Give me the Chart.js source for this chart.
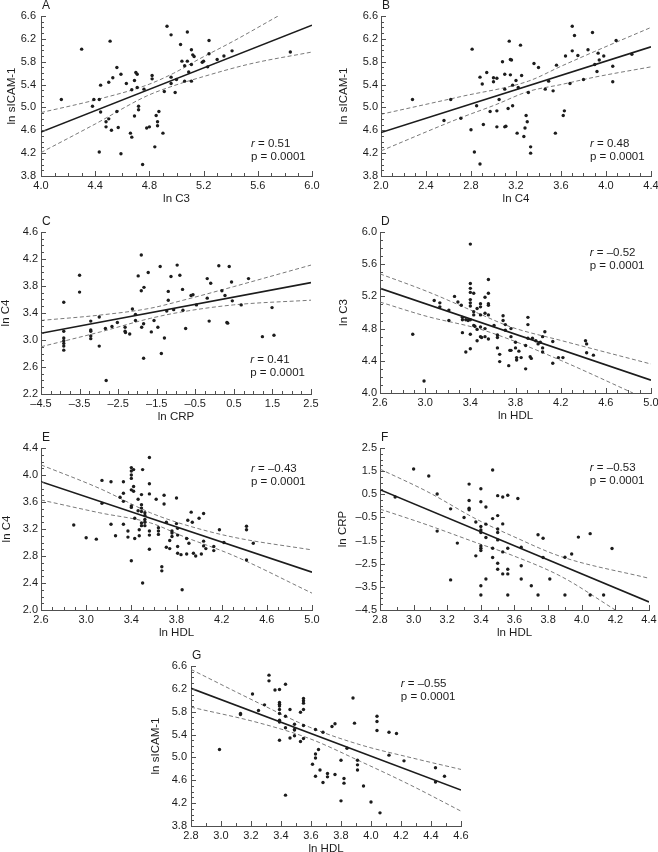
<!DOCTYPE html>
<html>
<head>
<meta charset="utf-8">
<title>Correlations</title>
<script src="https://cdn.jsdelivr.net/npm/chart.js@4.4.1/dist/chart.umd.min.js"></script>
<style>
html, body { margin: 0; padding: 0; background: #fff; }
body { width: 658px; height: 852px; position: relative; overflow: hidden; }
canvas { position: absolute; }
</style>
</head>
<body>
<canvas id="cA"></canvas>
<canvas id="cB"></canvas>
<canvas id="cC"></canvas>
<canvas id="cD"></canvas>
<canvas id="cE"></canvas>
<canvas id="cF"></canvas>
<canvas id="cG"></canvas>
<script>
// ---- data ----
// axis specs: [min, max, major step, minor subdivisions]

// A: ln C3 vs ln sICAM-1
const xAxisA = [4.0, 6.0, 0.4, 4];
const yAxisA = [3.8, 6.6, 0.4, 4];
const ptsA = [[4.15,5.14],[4.30,6.02],[4.38,5.02],[4.39,5.14],[4.43,5.14],[4.43,4.22],[4.44,5.39],[4.44,4.92],[4.48,4.75],[4.48,4.66],[4.50,4.80],[4.50,5.44],[4.51,6.16],[4.52,4.60],[4.53,5.52],[4.56,5.70],[4.56,4.93],[4.57,4.65],[4.59,5.58],[4.59,4.19],[4.63,5.42],[4.66,4.55],[4.67,5.31],[4.67,4.48],[4.69,5.47],[4.69,4.85],[4.70,5.61],[4.71,5.58],[4.71,5.35],[4.72,4.96],[4.72,5.02],[4.75,4.00],[4.76,5.32],[4.78,4.64],[4.80,4.66],[4.82,5.56],[4.82,5.50],[4.84,4.31],[4.85,4.86],[4.86,4.75],[4.86,4.68],[4.87,4.93],[4.90,4.55],[4.91,5.28],[4.93,6.42],[4.96,6.27],[4.96,5.53],[4.96,5.42],[4.99,5.26],[5.00,5.49],[5.03,6.10],[5.04,5.81],[5.06,5.73],[5.06,5.46],[5.08,6.32],[5.08,5.81],[5.09,5.62],[5.11,6.01],[5.11,5.75],[5.11,5.46],[5.12,5.92],[5.13,5.89],[5.19,5.79],[5.20,5.81],[5.23,5.71],[5.24,6.17],[5.24,5.94],[5.30,5.84],[5.35,5.90],[5.41,5.99],[5.84,5.97]];
const fitA = [[4.0,4.57],[6.0,6.44]];
const upA = [[4.0,4.91],[4.40,5.13],[4.78,5.39],[4.98,5.60],[5.17,5.85],[5.42,6.16],[5.75,6.60]];
const loA = [[4.0,4.21],[4.40,4.71],[4.78,5.20],[4.98,5.38],[5.17,5.52],[5.54,5.76],[6.0,5.97]];

// B: ln C4 vs ln sICAM-1
const xAxisB = [2.0, 4.4, 0.4, 4];
const yAxisB = [3.8, 6.6, 0.4, 4];
const ptsB = [[2.28,5.14],[2.56,4.77],[2.62,5.14],[2.71,4.81],[2.80,4.61],[2.81,6.02],[2.83,4.22],[2.85,5.03],[2.88,4.01],[2.88,5.53],[2.90,5.41],[2.91,4.70],[2.94,5.61],[2.97,4.93],[3.00,5.45],[3.00,5.52],[3.03,5.51],[3.03,4.94],[3.03,4.66],[3.05,5.14],[3.08,5.80],[3.10,5.32],[3.10,5.58],[3.10,4.66],[3.11,4.67],[3.13,4.98],[3.14,6.16],[3.15,5.84],[3.15,5.57],[3.16,5.83],[3.17,5.39],[3.17,5.03],[3.20,5.47],[3.21,4.55],[3.22,5.35],[3.24,6.09],[3.25,5.56],[3.27,4.49],[3.28,4.64],[3.29,4.86],[3.30,4.75],[3.31,5.26],[3.33,4.31],[3.33,4.20],[3.36,5.77],[3.40,5.70],[3.46,5.32],[3.49,5.46],[3.53,5.29],[3.56,5.74],[3.55,4.55],[3.62,4.86],[3.63,4.94],[3.64,5.90],[3.68,5.42],[3.70,5.99],[3.70,6.42],[3.72,6.26],[3.75,5.91],[3.80,5.49],[3.84,6.01],[3.88,6.31],[3.90,5.75],[3.93,5.95],[3.92,5.63],[3.94,5.83],[3.98,5.90],[4.06,5.72],[4.06,5.45],[4.09,6.17],[4.23,5.93]];
const fitB = [[2.0,4.56],[4.4,6.06]];
const upB = [[2.0,4.88],[2.71,5.19],[3.31,5.46],[3.60,5.72],[3.90,5.98],[4.4,6.40]];
const loB = [[2.0,4.24],[2.71,4.82],[3.01,5.04],[3.31,5.28],[3.60,5.40],[3.90,5.53],[4.4,5.71]];

// C: ln CRP vs ln C4
const xAxisC = [-4.5, 2.5, 1.0, 4];
const yAxisC = [2.2, 4.6, 0.4, 4];
const ptsC = [[-3.91,3.56],[-3.91,3.13],[-3.91,3.03],[-3.91,2.99],[-3.91,2.95],[-3.91,2.91],[-3.91,2.85],[-3.50,3.96],[-3.50,3.71],[-3.21,3.28],[-3.21,3.15],[-3.21,3.13],[-3.21,3.06],[-3.21,3.02],[-2.99,3.34],[-2.99,2.91],[-2.83,3.17],[-2.81,2.40],[-2.66,3.20],[-2.52,3.26],[-2.32,3.19],[-2.32,3.13],[-2.31,3.11],[-2.20,3.09],[-2.13,3.46],[-2.05,3.38],[-2.05,3.29],[-1.98,3.95],[-1.90,4.26],[-1.90,3.73],[-1.89,3.19],[-1.83,3.78],[-1.84,3.24],[-1.84,2.73],[-1.72,4.00],[-1.64,3.12],[-1.57,3.29],[-1.47,3.19],[-1.41,4.09],[-1.38,2.80],[-1.30,3.03],[-1.24,3.43],[-1.20,3.72],[-1.20,3.59],[-1.13,3.94],[-1.06,3.45],[-0.97,4.11],[-0.90,3.96],[-0.83,3.75],[-0.82,3.44],[-0.75,3.17],[-0.61,3.66],[-0.56,3.67],[-0.47,3.52],[-0.19,3.91],[-0.19,3.62],[-0.14,3.28],[-0.10,3.84],[0.11,4.10],[0.19,3.73],[0.27,3.66],[0.32,3.26],[0.34,3.25],[0.38,4.09],[0.44,3.86],[0.46,3.58],[0.69,3.52],[0.88,3.91],[1.24,3.05],[1.49,3.48],[1.54,3.07]];
const fitC = [[-4.5,3.10],[2.5,3.85]];
const upC = [[-4.5,3.29],[-2.96,3.37],[-1.67,3.47],[-0.81,3.59],[0.49,3.79],[2.5,4.11]];
const loC = [[-4.5,2.90],[-2.96,3.12],[-1.67,3.32],[-0.81,3.42],[0.49,3.52],[2.5,3.59]];

// D: ln HDL vs ln C3
const xAxisD = [2.6, 5.0, 0.4, 4];
const yAxisD = [4.0, 6.0, 0.4, 4];
const ptsD = [[2.89,4.73],[2.99,4.15],[3.08,5.15],[3.13,5.12],[3.13,5.07],[3.21,5.03],[3.21,4.90],[3.26,5.20],[3.29,5.13],[3.32,5.09],[3.33,4.94],[3.33,4.91],[3.33,4.75],[3.36,4.91],[3.36,4.51],[3.38,4.90],[3.40,5.36],[3.40,5.30],[3.40,5.25],[3.40,5.16],[3.40,5.12],[3.40,5.08],[3.40,4.91],[3.40,4.73],[3.40,4.55],[3.43,5.24],[3.43,5.01],[3.43,4.97],[3.43,4.84],[3.44,4.83],[3.46,5.05],[3.46,4.79],[3.46,4.65],[3.49,5.11],[3.49,5.07],[3.49,4.97],[3.49,4.82],[3.49,4.70],[3.50,4.69],[3.53,5.19],[3.53,4.99],[3.53,4.80],[3.53,4.70],[3.56,5.41],[3.56,5.24],[3.56,5.11],[3.56,5.09],[3.56,4.97],[3.56,4.67],[3.61,4.84],[3.64,4.72],[3.64,4.69],[3.64,4.56],[3.66,4.48],[3.66,4.39],[3.69,4.96],[3.69,4.90],[3.71,4.85],[3.71,4.78],[3.74,4.34],[3.75,4.53],[3.76,4.53],[3.76,4.80],[3.76,4.70],[3.80,4.63],[3.80,4.56],[3.81,4.44],[3.81,4.41],[3.83,4.52],[3.85,4.44],[3.89,4.59],[3.89,4.30],[3.91,4.94],[3.91,4.85],[3.91,4.68],[3.93,4.45],[3.94,4.43],[3.95,4.68],[3.98,4.65],[4.00,4.61],[4.02,4.63],[4.04,4.70],[4.04,4.56],[4.04,4.51],[4.06,4.76],[4.13,4.37],[4.13,4.64],[4.18,4.44],[4.22,4.44],[4.42,4.65],[4.43,4.61],[4.43,4.50],[4.49,4.47],[3.40,5.85]];
const fitD = [[2.6,5.30],[5.0,4.16]];
const upD = [[2.6,5.48],[3.02,5.26],[3.47,4.99],[3.76,4.82],[4.21,4.65],[5.0,4.36]];
const loD = [[2.6,5.13],[3.02,4.95],[3.47,4.80],[3.76,4.66],[4.21,4.40],[4.84,4.0]];

// E: ln HDL vs ln C4
const xAxisE = [2.6, 5.0, 0.4, 4];
const yAxisE = [2.0, 4.4, 0.4, 4];
const ptsE = [[2.89,3.26],[3.00,3.07],[3.09,3.05],[3.14,3.92],[3.14,3.58],[3.22,3.90],[3.22,3.27],[3.26,3.10],[3.30,3.67],[3.33,3.90],[3.33,3.73],[3.33,3.61],[3.33,3.27],[3.37,3.17],[3.37,3.08],[3.40,4.11],[3.40,4.06],[3.40,4.00],[3.40,3.95],[3.40,3.78],[3.40,3.54],[3.40,3.52],[3.40,2.73],[3.42,4.08],[3.42,3.83],[3.42,3.76],[3.43,3.36],[3.43,3.06],[3.46,3.64],[3.46,3.47],[3.47,3.19],[3.47,3.10],[3.49,3.71],[3.49,3.56],[3.49,3.51],[3.50,4.08],[3.49,3.46],[3.49,3.29],[3.49,3.25],[3.50,2.40],[3.52,3.44],[3.52,3.40],[3.52,3.34],[3.52,3.30],[3.52,3.25],[3.56,4.26],[3.56,3.87],[3.56,3.72],[3.56,3.17],[3.56,3.11],[3.56,2.90],[3.62,3.64],[3.64,3.22],[3.64,3.17],[3.64,3.12],[3.67,2.64],[3.67,2.58],[3.69,3.70],[3.69,3.57],[3.71,3.30],[3.71,2.93],[3.74,3.03],[3.74,2.91],[3.76,3.17],[3.76,3.14],[3.76,3.09],[3.80,3.66],[3.80,3.28],[3.81,3.21],[3.81,3.11],[3.81,2.94],[3.81,2.84],[3.84,2.82],[3.85,2.30],[3.89,3.06],[3.89,2.83],[3.90,3.33],[3.91,2.99],[3.93,3.45],[3.94,3.30],[3.95,2.84],[3.97,2.80],[4.00,3.36],[4.02,2.83],[4.04,3.43],[4.04,3.02],[4.04,2.95],[4.06,2.91],[4.13,2.94],[4.13,2.88],[4.18,3.19],[4.22,3.00],[4.42,3.24],[4.42,3.19],[4.42,2.74],[4.48,2.99]];
const fitE = [[2.6,3.90],[5.0,2.56]];
const upE = [[2.6,4.15],[3.12,3.80],[3.57,3.44],[3.86,3.27],[4.30,3.08],[5.0,2.89]];
const loE = [[2.6,3.63],[3.12,3.44],[3.57,3.29],[3.86,3.09],[4.30,2.81],[5.0,2.25]];

// F: ln HDL vs ln CRP
const xAxisF = [2.8, 4.4, 0.2, 2];
const yAxisF = [-4.5, 2.5, 1.0, 4];
const ptsF = [[2.89,0.38],[3.00,1.59],[3.09,1.29],[3.14,0.51],[3.14,-1.09],[3.22,-0.13],[3.22,-3.20],[3.26,-1.61],[3.30,-0.50],[3.33,0.94],[3.33,0.23],[3.33,-0.10],[3.33,-0.17],[3.37,-0.70],[3.37,-2.16],[3.40,0.74],[3.40,0.18],[3.40,-0.89],[3.40,-1.04],[3.40,-1.15],[3.40,-1.73],[3.40,-1.83],[3.40,-1.93],[3.40,-3.45],[3.40,-3.85],[3.43,-0.05],[3.43,-0.79],[3.43,-1.37],[3.43,-3.16],[3.47,1.55],[3.47,-0.55],[3.47,-1.83],[3.47,-2.23],[3.50,0.44],[3.50,-0.42],[3.50,-1.00],[3.50,-1.15],[3.50,-1.47],[3.50,-2.48],[3.50,-2.74],[3.53,0.38],[3.53,-0.78],[3.53,-1.99],[3.53,-2.94],[3.56,0.46],[3.56,-1.83],[3.56,-2.74],[3.56,-2.94],[3.56,-3.85],[3.62,0.32],[3.64,-1.79],[3.64,-2.59],[3.64,-3.16],[3.70,-3.45],[3.74,-1.25],[3.74,-3.85],[3.77,-1.40],[3.77,-2.23],[3.81,-3.16],[3.90,-2.22],[3.90,-3.85],[3.94,-2.08],[3.98,-1.35],[4.05,-1.20],[4.05,-3.85],[4.13,-3.85],[4.18,-1.84]];
const fitF = [[2.8,0.70],[4.4,-4.15]];
const upF = [[2.8,1.59],[3.08,0.62],[3.38,-0.60],[3.58,-1.28],[3.88,-2.20],[4.4,-3.13]];
const loF = [[2.8,-0.14],[3.08,-0.82],[3.38,-1.61],[3.58,-2.12],[3.88,-3.06],[4.20,-4.5]];

// G: ln HDL vs ln sICAM-1
const xAxisG = [2.8, 4.6, 0.2, 2];
const yAxisG = [3.8, 6.6, 0.4, 4];
const ptsG = [[2.99,5.14],[3.13,5.77],[3.13,5.75],[3.21,6.11],[3.25,5.82],[3.29,5.92],[3.32,6.44],[3.32,6.34],[3.36,6.18],[3.39,6.19],[3.39,5.96],[3.39,5.93],[3.39,5.90],[3.39,5.84],[3.39,5.77],[3.39,5.65],[3.39,5.62],[3.39,5.30],[3.43,6.28],[3.43,5.72],[3.43,5.52],[3.43,4.34],[3.46,5.84],[3.46,5.34],[3.49,5.58],[3.49,5.49],[3.49,5.48],[3.49,5.38],[3.53,5.79],[3.53,5.28],[3.55,6.03],[3.55,5.99],[3.55,5.95],[3.55,5.84],[3.55,5.56],[3.55,5.33],[3.61,4.88],[3.63,5.49],[3.63,5.06],[3.63,4.99],[3.63,4.67],[3.65,5.14],[3.66,4.78],[3.68,5.44],[3.68,4.56],[3.71,4.72],[3.71,4.66],[3.74,5.54],[3.76,5.59],[3.76,4.70],[3.80,4.95],[3.80,4.24],[3.82,4.63],[3.82,4.55],[3.84,5.16],[3.88,6.04],[3.89,5.60],[3.91,4.95],[3.91,4.87],[3.91,4.78],[3.95,4.50],[4.00,4.22],[4.04,5.72],[4.04,5.63],[4.04,5.47],[4.06,4.03],[4.12,5.44],[4.12,5.04],[4.17,5.42],[4.22,4.94],[4.43,4.82],[4.43,4.57],[4.49,4.67]];
const fitG = [[2.8,6.21],[4.6,4.43]];
const upG = [[2.8,6.54],[3.26,5.94],[3.59,5.53],[3.93,5.22],[4.26,5.00],[4.6,4.79]];
const loG = [[2.8,5.88],[3.26,5.60],[3.59,5.33],[3.93,4.93],[4.26,4.52],[4.6,4.06]];

const letters = ['A', 'B', 'C', 'D', 'E', 'F', 'G'];
const xTitles = ['ln C3', 'ln C4', 'ln CRP', 'ln HDL', 'ln HDL', 'ln HDL', 'ln HDL'];
const yTitles = ['ln sICAM-1', 'ln sICAM-1', 'ln C4', 'ln C3', 'ln C4', 'ln CRP', 'ln sICAM-1'];
const rValues = ['0.51', '0.48', '0.41', '\u20130.52', '\u20130.43', '\u20130.53', '\u20130.55'];
const pValues = ['0.0001', '0.0001', '0.0001', '0.0001', '0.0001', '0.0001', '0.0001'];

// ---- layout (page pixels) ----
const layout = {
  A: { left: 41,  top: 16,  w: 271, h: 160, yw: 40, ypad: 5, note: [0.775, 0.80] },
  B: { left: 381, top: 16,  w: 270, h: 160, yw: 48, ypad: 3, note: [0.774, 0.80] },
  C: { left: 41,  top: 232, w: 270, h: 162, yw: 46, ypad: 3, note: [0.775, 0.786] },
  D: { left: 380, top: 232, w: 271, h: 161, yw: 47, ypad: 3, note: [0.774, 0.127] },
  E: { left: 41,  top: 448, w: 271, h: 162, yw: 45, ypad: 3, note: [0.775, 0.13] },
  F: { left: 380, top: 448, w: 269, h: 162, yw: 48, ypad: 3, note: [0.78, 0.124] },
  G: { left: 191, top: 666, w: 270, h: 160, yw: 46, ypad: 4, note: [0.777, 0.11] }
};

const FONT = "'Liberation Sans', Arial, sans-serif";
const INK = '#1c1c1c';
const AXIS = '#505050';
const DASH = '#7a7a7a';
const PAD_TOP = 20, PAD_RIGHT = 12, X_H = 34;

function fmt(v) {
  let s = (Math.abs(v) < 1e-9 ? 0 : v).toFixed(1);
  return s.replace('-', '\u2013');
}

// inward major/minor ticks, panel letter and r/p note
const panelDecor = {
  id: 'panelDecor',
  afterDraw(chart, args, o) {
    const { ctx, chartArea: a, scales } = chart;
    ctx.save();
    ctx.strokeStyle = AXIS;
    ctx.lineWidth = 1;
    function marks(scale, horiz, sub) {
      const step = scale.options.ticks.stepSize / sub;
      const n = Math.round((scale.max - scale.min) / step);
      for (let i = 0; i <= n; i++) {
        const p = Math.round(scale.getPixelForValue(scale.min + i * step)) + 0.5;
        const len = i % sub === 0 ? 5 : 3;
        ctx.beginPath();
        if (horiz) { ctx.moveTo(p, a.bottom); ctx.lineTo(p, a.bottom - len); }
        else { ctx.moveTo(a.left, p); ctx.lineTo(a.left + len, p); }
        ctx.stroke();
      }
    }
    marks(scales.x, true, o.xSub);
    marks(scales.y, false, o.ySub);

    ctx.fillStyle = INK;
    ctx.textBaseline = 'middle';
    ctx.textAlign = 'left';
    ctx.font = '12px ' + FONT;
    ctx.fillText(o.letter, a.left + 1, a.top - 10.5);

    const tx = a.left + o.note[0] * (a.right - a.left);
    const ty = a.top + o.note[1] * (a.bottom - a.top);
    ctx.font = 'italic 11.5px ' + FONT;
    ctx.fillText('r', tx, ty);
    const rw = ctx.measureText('r').width;
    ctx.font = '11.5px ' + FONT;
    ctx.fillText(' = ' + o.r, tx + rw, ty);
    ctx.fillText('p = ' + o.p, tx, ty + 13);
    ctx.restore();
  }
};

function toXY(list) { return list.map(d => ({ x: d[0], y: d[1] })); }

function axis(spec, title, horiz, L) {
  return {
    type: 'linear',
    min: spec[0], max: spec[1],
    grid: { display: false, drawTicks: false },
    border: { display: true, color: AXIS, width: 1 },
    ticks: {
      stepSize: spec[2], autoSkip: false, maxRotation: 0, minRotation: 0,
      padding: horiz ? 3 : L.ypad,
      color: INK, font: { family: FONT, size: 11 },
      callback: v => fmt(v)
    },
    title: {
      display: true, text: title, color: INK,
      font: { family: FONT, size: 11.5 },
      padding: { top: 4, bottom: 4 }
    },
    afterFit: s => { if (horiz) s.height = X_H; else s.width = L.yw; }
  };
}

function panel(i, key, pts, fit, up, lo, xs, ys) {
  const L = layout[key];
  const cv = document.getElementById('c' + key);
  const W = L.yw + L.w + PAD_RIGHT, H = PAD_TOP + L.h + X_H;
  cv.width = W; cv.height = H;
  cv.style.width = W + 'px'; cv.style.height = H + 'px';
  cv.style.left = (L.left - L.yw) + 'px';
  cv.style.top = (L.top - PAD_TOP) + 'px';

  const band = d => ({
    data: toXY(d), showLine: true, pointRadius: 0,
    borderColor: DASH, borderWidth: 1, borderDash: [4, 2.5],
    cubicInterpolationMode: 'monotone'
  });

  new Chart(cv, {
    type: 'scatter',
    data: {
      datasets: [
        { data: toXY(pts), pointRadius: 1.7, pointBackgroundColor: INK, pointBorderWidth: 0 },
        { data: toXY(fit), showLine: true, pointRadius: 0, borderColor: INK, borderWidth: 1.6 },
        band(up),
        band(lo)
      ]
    },
    options: {
      responsive: false,
      animation: false,
      devicePixelRatio: 1,
      layout: { padding: { top: PAD_TOP, right: PAD_RIGHT, left: 0, bottom: 0 } },
      plugins: {
        legend: { display: false },
        tooltip: { enabled: false },
        panelDecor: {
          xSub: xs[3], ySub: ys[3], letter: letters[i],
          r: rValues[i], p: pValues[i], note: L.note
        }
      },
      scales: {
        x: axis(xs, xTitles[i], true, L),
        y: axis(ys, yTitles[i], false, L)
      }
    },
    plugins: [panelDecor]
  });
}

panel(0, 'A', ptsA, fitA, upA, loA, xAxisA, yAxisA);
panel(1, 'B', ptsB, fitB, upB, loB, xAxisB, yAxisB);
panel(2, 'C', ptsC, fitC, upC, loC, xAxisC, yAxisC);
panel(3, 'D', ptsD, fitD, upD, loD, xAxisD, yAxisD);
panel(4, 'E', ptsE, fitE, upE, loE, xAxisE, yAxisE);
panel(5, 'F', ptsF, fitF, upF, loF, xAxisF, yAxisF);
panel(6, 'G', ptsG, fitG, upG, loG, xAxisG, yAxisG);
</script>
</body>
</html>
